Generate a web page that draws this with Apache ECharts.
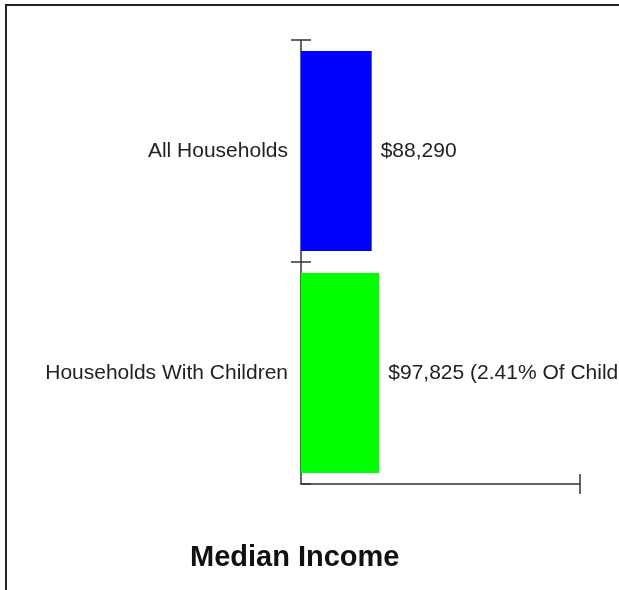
<!DOCTYPE html>
<html>
<head>
<meta charset="utf-8">
<script src="https://cdn.jsdelivr.net/npm/echarts@6/dist/echarts.min.js"></script>
<style>
html,body{margin:0;padding:0;background:#fff;}
#chart{width:619px;height:590px;}
</style>
</head>
<body>
<div id="chart"></div>
<script>
const categories = ["All Households", "Households With Children"];
const values = [88290, 97825];
const valueLabels = ["$88,290", "$97,825 (2.41% Of Children)"];
const barColors = ["#0000ff", "#00ff00"];
const axisMax = 348500;
const titleText = "Median Income";

const chart = echarts.init(document.getElementById('chart'), null, {renderer: 'canvas'});
const font = "Arial, 'Liberation Sans', Helvetica, sans-serif";
const axisColor = '#333';

const option = {
  backgroundColor: '#fff',
  animation: false,
  title: {
    text: titleText,
    left: 190,
    top: 543,
    padding: 0,
    textStyle: {fontFamily: font, fontSize: 29, fontWeight: 'bold', color: '#111'}
  },
  graphic: [{
    type: 'rect',
    shape: {x: 6, y: 5, width: 700, height: 700},
    style: {fill: 'none', stroke: '#222', lineWidth: 2},
    z: 100
  }],
  grid: {left: 301, right: 39, top: 40, bottom: 106, containLabel: false},
  xAxis: [{
    type: 'value', min: 0, max: axisMax, interval: axisMax, position: 'bottom',
    axisLine: {show: true, onZero: false, lineStyle: {color: axisColor, width: 1.5}},
    axisTick: {show: true, length: 10, customValues: [axisMax], lineStyle: {color: axisColor, width: 1.5}},
    axisLabel: {show: false},
    splitLine: {show: false}
  }, {
    type: 'value', min: 0, max: axisMax, interval: axisMax, position: 'bottom', offset: 0.01,
    axisLine: {show: false, onZero: false},
    axisTick: {show: true, inside: true, length: 10, customValues: [axisMax], lineStyle: {color: axisColor, width: 1.5}},
    axisLabel: {show: false},
    splitLine: {show: false}
  }],
  yAxis: [{
    type: 'category', data: categories, inverse: true, position: 'left',
    axisLine: {show: true, onZero: false, lineStyle: {color: axisColor, width: 1.5}},
    axisTick: {show: true, inside: true, length: 10, lineStyle: {color: axisColor, width: 1.5}},
    axisLabel: {show: true, margin: 13, fontFamily: font, fontSize: 21, color: '#222'},
    splitLine: {show: false}
  }, {
    type: 'value', min: 0, max: categories.length, interval: 1, inverse: true, position: 'left', offset: 0.01,
    axisLine: {show: false, onZero: false},
    axisTick: {show: true, length: 10, customValues: [0, 1], lineStyle: {color: axisColor, width: 1.5}},
    axisLabel: {show: false},
    splitLine: {show: false}
  }],
  series: [{
    type: 'bar',
    xAxisIndex: 0,
    yAxisIndex: 0,
    barCategoryGap: '10%',
    data: values.map((v, i) => ({value: v, itemStyle: {color: barColors[i]}})),
    label: {
      show: true, position: 'right', distance: 9,
      fontFamily: font, fontSize: 21, color: '#222',
      formatter: p => valueLabels[p.dataIndex]
    }
  }]
};
chart.setOption(option);
</script>
</body>
</html>
